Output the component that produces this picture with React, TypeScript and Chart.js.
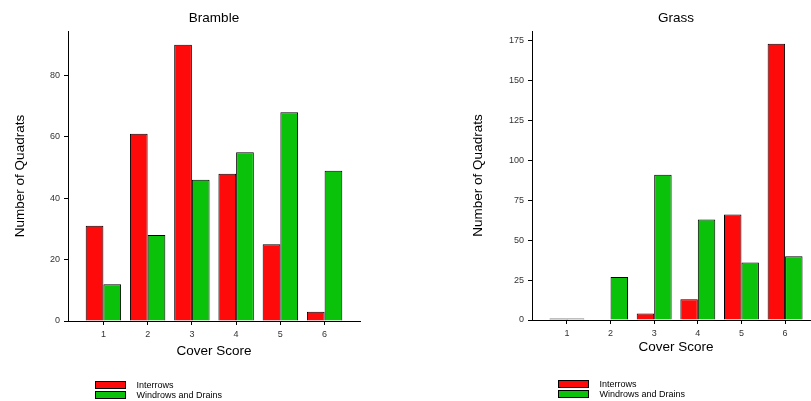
import React, { useEffect, useRef } from 'react';
import { Chart, registerables } from 'chart.js';

Chart.register(...registerables);

// ---- data ----
const coverScores = [1, 2, 3, 4, 5, 6];
const seriesNames = ['Interrows', 'Windrows and Drains'];
const brambleInterrows = [31, 61, 90, 48, 25, 3];
const brambleWindrows = [12, 28, 46, 55, 68, 49];
const grassInterrows = [1, 0, 4, 13, 66, 173];
const grassWindrows = [1, 27, 91, 63, 36, 40];
const brambleYTicks = [0, 20, 40, 60, 80];
const grassYTicks = [0, 25, 50, 75, 100, 125, 150, 175];

const FONT = '"Liberation Sans", Arial, Helvetica, sans-serif';
const RED = '#fe0a0a';
const GREEN = '#0ac20a';

// legend swatch: a 31x8 box followed by a small blank gap before the text
function swatch(color: string): HTMLCanvasElement {
  const c = document.createElement('canvas');
  c.width = 37;
  c.height = 9;
  const ctx = c.getContext('2d')!;
  ctx.fillStyle = color;
  ctx.fillRect(0, 0, 31, 8);
  ctx.strokeStyle = '#000';
  ctx.lineWidth = 1;
  ctx.strokeRect(0.5, 0.5, 30, 7);
  return c;
}

type PanelProps = {
  title: string;
  interrows: number[];
  windrows: number[];
  yTicks: number[];
  yMax: number;
  xMin: number;
  xMax: number;
  left: number;
  width: number;
  yAxisWidth: number;
  yTitlePad: number;
  xAxisHeight: number;
  xTitlePad: number;
  padRight: number;
  padBottom: number;
  legendX: number;
  legendY: number;
};

function Panel(p: PanelProps) {
  const ref = useRef<HTMLCanvasElement | null>(null);
  useEffect(() => {
    if (!ref.current) return;
    const legendPlacer = {
      id: 'legendPlacer',
      afterLayout(chart: any) {
        const lg = chart.legend;
        if (!lg) return;
        lg.left = p.legendX;
        lg.top = p.legendY;
        lg.right = p.legendX + 150;
        lg.bottom = p.legendY + 30;
        lg.width = 150;
        lg.height = 30;
      },
    };
    const chart = new Chart(ref.current, {
      type: 'bar',
      data: {
        labels: coverScores,
        datasets: [
          {
            label: seriesNames[0],
            data: p.interrows,
            backgroundColor: RED,
            borderColor: '#000',
            borderWidth: 1,
            pointStyle: swatch(RED),
          },
          {
            label: seriesNames[1],
            data: p.windrows,
            backgroundColor: GREEN,
            borderColor: '#000',
            borderWidth: 1,
            pointStyle: swatch(GREEN),
          },
        ],
      },
      plugins: [legendPlacer],
      options: {
        animation: false,
        responsive: false,
        devicePixelRatio: 1,
        layout: { padding: { left: 0, top: 0, right: p.padRight, bottom: p.padBottom } },
        datasets: { bar: { categoryPercentage: 0.8, barPercentage: 1 } },
        plugins: {
          tooltip: { enabled: false },
          title: {
            display: true,
            text: p.title,
            fullSize: false,
            color: '#000',
            font: { family: FONT, size: 13.5, weight: 'normal' },
            padding: { top: 10, bottom: 4.8 },
          },
          legend: {
            display: true,
            position: 'bottom',
            align: 'start',
            labels: {
              usePointStyle: true,
              pointStyleWidth: 37,
              boxWidth: 37,
              boxHeight: 9,
              padding: 1,
              color: '#000',
              font: { family: FONT, size: 9 },
            },
          },
        },
        scales: {
          x: {
            type: 'linear',
            min: p.xMin,
            max: p.xMax,
            offset: false,
            afterBuildTicks: (s: any) => {
              s.ticks = coverScores.map((v) => ({ value: v }));
            },
            afterFit: (s: any) => {
              s.height = p.xAxisHeight;
            },
            grid: {
              display: true,
              offset: false,
              drawOnChartArea: false,
              drawTicks: true,
              tickLength: 4,
              color: '#000',
              lineWidth: 1,
            },
            border: { display: true, color: '#000', width: 1 },
            ticks: {
              color: '#333',
              font: { family: FONT, size: 9 },
              padding: 4,
              maxRotation: 0,
              autoSkip: false,
            },
            title: {
              display: true,
              text: 'Cover Score',
              color: '#000',
              font: { family: FONT, size: 13.5 },
              padding: { top: 0, bottom: p.xTitlePad },
            },
          },
          y: {
            type: 'linear',
            min: 0,
            max: p.yMax,
            afterBuildTicks: (s: any) => {
              s.ticks = p.yTicks.map((v) => ({ value: v }));
            },
            afterFit: (s: any) => {
              s.width = p.yAxisWidth;
            },
            grid: {
              display: true,
              drawOnChartArea: false,
              drawTicks: true,
              tickLength: 4,
              color: '#000',
              lineWidth: 1,
            },
            border: { display: true, color: '#000', width: 1 },
            ticks: {
              color: '#333',
              font: { family: FONT, size: 9 },
              padding: 4,
            },
            title: {
              display: true,
              text: 'Number of Quadrats',
              color: '#000',
              font: { family: FONT, size: 13.5 },
              padding: { top: p.yTitlePad, bottom: 0 },
            },
          },
        },
      } as any,
    });
    return () => chart.destroy();
  }, []);
  return (
    <canvas
      ref={ref}
      width={p.width}
      height={401}
      style={{ position: 'absolute', left: p.left, top: 0, width: p.width, height: 401 }}
    />
  );
}

export default function App() {
  return (
    <div
      style={{
        position: 'absolute',
        left: 0,
        top: 0,
        width: 811,
        height: 401,
        overflow: 'hidden',
        background: '#fff',
      }}
    >
      <Panel
        title="Bramble"
        interrows={brambleInterrows}
        windrows={brambleWindrows}
        yTicks={brambleYTicks}
        yMax={94.5}
        xMin={0.2}
        xMax={6.8}
        left={0}
        width={405}
        yAxisWidth={68}
        yTitlePad={12}
        xAxisHeight={50}
        xTitlePad={12}
        padRight={45}
        padBottom={10}
        legendX={94}
        legendY={380}
      />
      <Panel
        title="Grass"
        interrows={grassInterrows}
        windrows={grassWindrows}
        yTicks={grassYTicks}
        yMax={181}
        xMin={0.2}
        xMax={6.8}
        left={405}
        width={415}
        yAxisWidth={127}
        yTitlePad={65}
        xAxisHeight={50}
        xTitlePad={15}
        padRight={0}
        padBottom={11}
        legendX={152}
        legendY={379}
      />
    </div>
  );
}
